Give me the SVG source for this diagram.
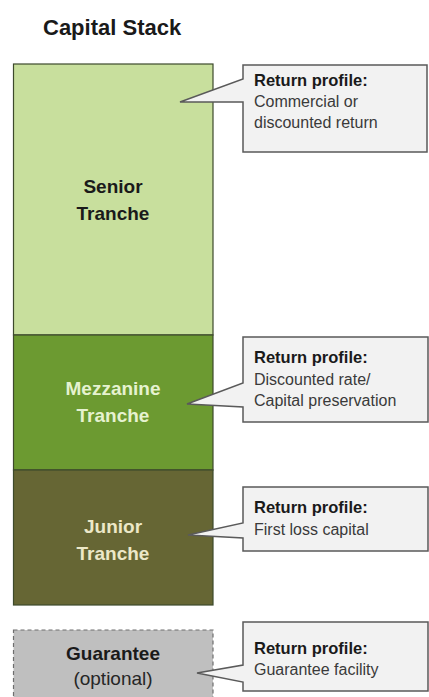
<svg xmlns="http://www.w3.org/2000/svg" width="429" height="697" viewBox="0 0 429 697">
<style>
  .title{font-family:"Liberation Sans",Arial,sans-serif;font-weight:bold;font-size:22px;fill:#1a1a1a}
  .tr{font-family:"Liberation Sans",Arial,sans-serif;font-weight:bold;font-size:19px;text-anchor:middle}
  .reg{font-family:"Liberation Sans",Arial,sans-serif;font-size:19px;text-anchor:middle;fill:#262626}
  .cb{font-family:"Liberation Sans",Arial,sans-serif;font-weight:bold;font-size:16.5px;fill:#1a1a1a}
  .ct{font-family:"Liberation Sans",Arial,sans-serif;font-size:16px;fill:#3a3a3a}
  .callout{fill:#f2f2f2;stroke:#5a5a5a;stroke-width:1.5;stroke-linejoin:miter}
  .box{stroke:#3d4a2c;stroke-width:1.2}
</style>
<rect width="429" height="697" fill="#ffffff"/>
<text class="title" x="43" y="35">Capital Stack</text>

<g id="senior">
  <rect class="box" x="13.5" y="64" width="199.5" height="271" fill="#c8df9d"/>
  <text class="tr" x="113" y="193" fill="#1a1a1a">Senior</text>
  <text class="tr" x="113" y="220" fill="#1a1a1a">Tranche</text>
</g>
<g id="mezzanine">
  <rect class="box" x="13.5" y="335" width="199.5" height="135" fill="#6c9a31"/>
  <text class="tr" x="113" y="395" fill="#e6f2d0">Mezzanine</text>
  <text class="tr" x="113" y="422" fill="#e6f2d0">Tranche</text>
</g>
<g id="junior">
  <rect class="box" x="13.5" y="470" width="199.5" height="135" fill="#666634"/>
  <text class="tr" x="113" y="533" fill="#ece8c8">Junior</text>
  <text class="tr" x="113" y="560" fill="#ece8c8">Tranche</text>
</g>
<g id="guarantee">
  <rect x="13.5" y="630" width="199.5" height="75" fill="#bfbfbf" stroke="#6e6e6e" stroke-width="1.2" stroke-dasharray="4 3"/>
  <text class="tr" x="113" y="660" fill="#1a1a1a">Guarantee</text>
  <text class="reg" x="113" y="685">(optional)</text>
</g>

<g id="connectors">
  <g id="callout-senior">
    <path class="callout" d="M243,65 H427 V152 H243 V102 L180,102 L243,79 Z"/>
    <text class="cb" x="254" y="86">Return profile:</text>
    <text class="ct" x="254" y="107">Commercial or</text>
    <text class="ct" x="254" y="128">discounted return</text>
  </g>
  <g id="callout-mezzanine">
    <path class="callout" d="M243,337 H428 V422 H243 V407 L187,404 L243,383 Z"/>
    <text class="cb" x="254" y="363">Return profile:</text>
    <text class="ct" x="254" y="385">Discounted rate/</text>
    <text class="ct" x="254" y="406">Capital preservation</text>
  </g>
  <g id="callout-junior">
    <path class="callout" d="M243,487 H428 V551 H243 V538 L188,535 L243,523 Z"/>
    <text class="cb" x="254" y="513">Return profile:</text>
    <text class="ct" x="254" y="535">First loss capital</text>
  </g>
  <g id="callout-guarantee">
    <path class="callout" d="M243,622 H428 V691 H243 V682 L197,673 L243,665 Z"/>
    <text class="cb" x="254" y="654">Return profile:</text>
    <text class="ct" x="254" y="675">Guarantee facility</text>
  </g>
</g>
</svg>
